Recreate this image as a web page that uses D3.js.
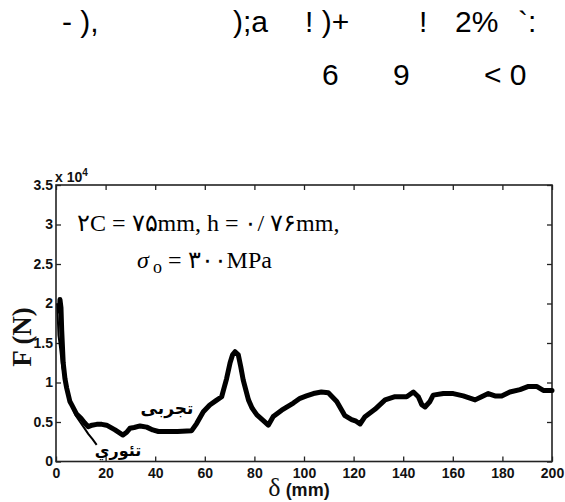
<!DOCTYPE html>
<html><head><meta charset="utf-8">
<script src="https://cdn.jsdelivr.net/npm/d3@7"></script>
<style>body{margin:0;background:#fff}svg{display:block}</style>
</head><body>
<svg id="c" width="565" height="502"></svg>
<script>
// ---- data ----
const expX = [1.4,1.6,2.0,2.3,2.9,3.6,4.3,5.6,6.3,8.3,10,11.5,13,14.5,16.4,18.5,20.4,23.8,27,28.5,29.8,31.5,33.9,36.6,39,41.3,45,49,54.7,56.7,59.4,62,64.5,66.8,67.5,68.8,70.2,71.2,72.2,73.5,74.5,75.5,77.6,79,81,83.5,85.6,87.6,91,95.7,98.4,101,103.8,107,109.8,113.2,116.5,119.2,121,122.6,124.6,128.6,132.7,136.7,141.4,144.1,146.1,147.5,148.8,150.8,152.1,156.2,160.2,164.2,169,171.6,174.3,177,179.7,183,187.1,190.5,193.8,196.5,200];
const expF = [1.9,2.05,1.95,1.66,1.25,1.05,0.93,0.76,0.72,0.6,0.55,0.49,0.44,0.46,0.47,0.47,0.46,0.40,0.335,0.37,0.42,0.43,0.45,0.435,0.40,0.38,0.38,0.38,0.39,0.48,0.63,0.715,0.77,0.82,0.9,1.05,1.25,1.35,1.39,1.35,1.2,1.03,0.78,0.68,0.59,0.52,0.46,0.57,0.65,0.74,0.80,0.83,0.86,0.88,0.87,0.76,0.58,0.53,0.51,0.475,0.567,0.66,0.78,0.82,0.82,0.88,0.82,0.72,0.69,0.76,0.84,0.86,0.86,0.83,0.78,0.82,0.86,0.83,0.83,0.88,0.91,0.95,0.95,0.90,0.90];
const theoX = [0.5,1.0,1.6,2.5,3.6,5,6.3,8,9.7,11.5,13,14.8,16.4];
const theoF = [2.0,1.6,1.45,1.2,1.03,0.85,0.7,0.58,0.5,0.42,0.35,0.28,0.21];
const xTicks = [0,20,40,60,80,100,120,140,160,180,200];
const yTicks = [0,0.5,1,1.5,2,2.5,3,3.5];
const yTickLabels = ["0","0.5","1","1.5","2","2.5","3","3.5"];
const title1 = [["- ),",62],[");a",233],["! )+",305],["!",419],["2%",455],["`:",518]];
const title2 = [["6",322],["9",393],["< 0",484]];

const svg = d3.select("#c");
const L=56,R=552,T=185,B=461.5;
const x = d3.scaleLinear().domain([0,200]).range([L,R]);
const y = d3.scaleLinear().domain([0,3.5]).range([B,T]);

// title (garbled glyphs)
const tg = svg.append("g").attr("font-family","Liberation Sans, Arial, sans-serif").attr("font-size",30).attr("fill","#000");
title1.forEach(d=>tg.append("text").attr("x",d[1]).attr("y",32).attr("xml:space","preserve").text(d[0]));
title2.forEach(d=>tg.append("text").attr("x",d[1]).attr("y",85).attr("xml:space","preserve").text(d[0]));

// axes
const ax = svg.append("g");
ax.append("g").attr("transform",`translate(0,${B})`)
  .call(d3.axisBottom(x).tickValues(xTicks).tickSizeInner(-5).tickSizeOuter(0).tickPadding(7).tickFormat(d3.format("d")));
ax.append("g").attr("transform",`translate(0,${T})`)
  .call(d3.axisTop(x).tickValues(xTicks).tickSizeInner(-5).tickSizeOuter(0).tickFormat(""));
ax.append("g").attr("transform",`translate(${L},0)`)
  .call(d3.axisLeft(y).tickValues(yTicks).tickSizeInner(-5).tickSizeOuter(0).tickPadding(3).tickFormat((d,i)=>yTickLabels[i]));
ax.append("g").attr("transform",`translate(${R},0)`)
  .call(d3.axisRight(y).tickValues(yTicks).tickSizeInner(-5).tickSizeOuter(0).tickFormat(""));
ax.selectAll(".domain").remove();
ax.selectAll(".tick line").attr("stroke","#222").attr("stroke-width",1.3);
ax.selectAll(".tick text").attr("font-family","Liberation Sans, Arial, sans-serif").attr("font-size",14).attr("font-weight","bold").attr("fill","#111");
svg.append("rect").attr("x",L).attr("y",T).attr("width",R-L).attr("height",B-T)
  .attr("fill","none").attr("stroke","#222").attr("stroke-width",1.6);

// exponent
const ex = svg.append("text").attr("x",55).attr("y",182).attr("font-family","Liberation Sans, Arial, sans-serif")
  .attr("font-weight","bold").attr("font-size",14).attr("fill","#111");
ex.append("tspan").text("x 10");
ex.append("tspan").attr("dy",-6).attr("font-size",10).text("4");

// lines
const line = d3.line().x(d=>x(d[0])).y(d=>y(d[1]));
svg.append("path").datum(theoX.map((v,i)=>[v,theoF[i]])).attr("d",line)
  .attr("fill","none").attr("stroke","#000").attr("stroke-width",2);
svg.append("path").datum(expX.map((v,i)=>[v,expF[i]])).attr("d",line)
  .attr("fill","none").attr("stroke","#000").attr("stroke-width",5).attr("stroke-linejoin","round").attr("stroke-linecap","round");

// curve labels
svg.append("text").attr("x",167).attr("y",414).attr("text-anchor","middle").attr("font-family","DejaVu Sans, sans-serif")
  .attr("font-weight","bold").attr("font-size",17).attr("fill","#000").text("تجربی");
svg.append("text").attr("x",118).attr("y",456).attr("text-anchor","middle").attr("font-family","DejaVu Sans, sans-serif")
  .attr("font-weight","bold").attr("font-size",16).attr("fill","#000").text("تئوري");

// annotation
const an = svg.append("g").attr("font-family","Liberation Serif, Times New Roman, serif").attr("font-size",24).attr("fill","#000");
an.append("text").attr("x",77).attr("y",231).text("۲C = ۷۵mm, h = ۰/ ۷۶mm,");
an.append("text").attr("x",137).attr("y",268).attr("font-style","italic").text("σ");
an.append("text").attr("x",153).attr("y",273).attr("font-size",18).text("o");
an.append("text").attr("x",168).attr("y",268).text("= ۳۰۰MPa");

// axis labels
svg.append("text").attr("transform","translate(31,337) rotate(-90)").attr("text-anchor","middle")
  .attr("font-family","Liberation Serif, Times New Roman, serif").attr("font-weight","bold").attr("font-size",27).attr("fill","#111").text("F (N)");
const xl = svg.append("text").attr("x",299).attr("y",496).attr("text-anchor","middle").attr("fill","#111");
xl.append("tspan").attr("font-family","Liberation Serif, Times New Roman, serif").attr("font-size",26).text("δ");
xl.append("tspan").attr("font-family","Liberation Sans, Arial, sans-serif").attr("font-weight","bold").attr("font-size",18).text(" (mm)");
</script>
</body></html>
